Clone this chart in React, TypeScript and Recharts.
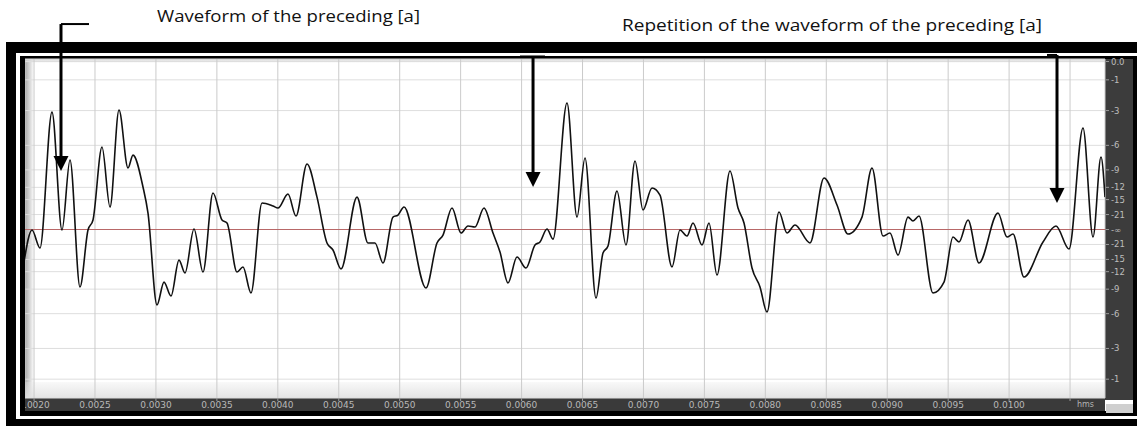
import React from 'react';
import { LineChart, Line, XAxis, YAxis, CartesianGrid, ReferenceLine } from 'recharts';

// time in milliseconds (axis labels show seconds)
const timeMs = [
  1.9175, 1.9831, 2.0487, 2.1472, 2.2292, 2.2949, 2.3769, 2.4426, 2.4836, 2.5574,
  2.6231, 2.6969, 2.7708, 2.8118, 2.8938, 2.9349, 3.0087, 3.0661, 3.1236, 3.1892,
  3.2384, 3.3123, 3.3861, 3.4682, 3.5420, 3.5830, 3.6651, 3.7143, 3.7799, 3.8702,
  3.9605, 4.0015, 4.0835, 4.1492, 4.2394, 4.3215, 4.4035, 4.4527, 4.5184, 4.6497,
  4.7399, 4.7973, 4.8630, 4.9450, 4.9861, 5.0353, 5.2158, 5.3060, 5.3553, 5.4291,
  5.5030, 5.5604, 5.6178, 5.6917, 5.7655, 5.8229, 5.8886, 5.9624, 6.0363, 6.1101,
  6.1511, 6.2086, 6.2578, 6.3727, 6.4547, 6.5204, 6.6106, 6.6680, 6.7091, 6.7829,
  6.8567, 6.9306, 6.9962, 7.0701, 7.1357, 7.2342, 7.2998, 7.3572, 7.4065, 7.4803,
  7.5377, 7.6034, 7.7100, 7.7757, 7.8249, 7.8906, 7.9562, 8.0136, 8.1121, 8.1777,
  8.2434, 8.3664, 8.4813, 8.5880, 8.6782, 8.7931, 8.8751, 8.9654, 9.0228, 9.0885,
  9.1705, 9.2115, 9.2608, 9.3756, 9.4659, 9.5397, 9.5889, 9.6628, 9.7530, 9.9089,
  9.9828, 10.0320, 10.1222, 10.2782, 10.3848, 10.4915, 10.6063, 10.6884, 10.7540, 10.7868,
];

// linear amplitude (1 = full scale)
const amplitude = [
  -0.193, -0.003, -0.110, 0.699, -0.003, 0.414, -0.342, -0.003, 0.057, 0.491,
  0.134, 0.711, 0.366, 0.443, 0.253, 0.098, -0.449, -0.313, -0.396, -0.182,
  -0.259, 0.003, -0.253, 0.217, 0.057, 0.039, -0.253, -0.223, -0.378, 0.158,
  0.140, 0.128, 0.211, 0.080, 0.390, 0.193, -0.080, -0.122, -0.235, 0.193,
  -0.080, -0.080, -0.199, 0.074, 0.086, 0.134, -0.348, -0.080, -0.033, 0.128,
  -0.021, 0.021, 0.015, 0.128, -0.021, -0.134, -0.318, -0.164, -0.229, -0.092,
  -0.074, 0.003, -0.057, 0.753, 0.074, 0.426, -0.408, -0.140, -0.098, 0.229,
  -0.092, 0.408, 0.116, 0.247, 0.205, -0.223, -0.003, -0.039, 0.039, -0.092,
  0.039, -0.271, 0.348, 0.128, 0.039, -0.229, -0.342, -0.491, 0.104, -0.021,
  0.027, -0.080, 0.307, 0.146, -0.027, 0.074, 0.366, -0.039, -0.021, -0.152,
  0.074, 0.051, 0.080, -0.378, -0.313, -0.045, -0.074, 0.057, -0.199, 0.098,
  -0.045, -0.027, -0.283, -0.074, 0.021, -0.116, 0.604, -0.045, 0.432, 0.193,
];

const xTickValues = [2.0, 2.5, 3.0, 3.5, 4.0, 4.5, 5.0, 5.5, 6.0, 6.5, 7.0, 7.5, 8.0, 8.5, 9.0, 9.5, 10.0, 10.5];
const xTickLabels = ['0.0020', '0.0025', '0.0030', '0.0035', '0.0040', '0.0045', '0.0050', '0.0055', '0.0060', '0.0065', '0.0070', '0.0075', '0.0080', '0.0085', '0.0090', '0.0095', '0.0100', ''];
const xUnitLabel = 'hms';

const yTickValues = [1.0, 0.891, 0.708, 0.501, 0.355, 0.251, 0.178, 0.089, 0, -0.089, -0.178, -0.251, -0.355, -0.501, -0.708, -0.891];
const yTickLabels = ['0.0', '-1', '-3', '-6', '-9', '-12', '-15', '-21', '-∞', '-21', '-15', '-12', '-9', '-6', '-3', '-1'];

// annotation arrows (time ms, amplitude)
const arrowTimes = [2.221, 6.094, 10.393];
const arrowTops = [1.223, 1.03, 1.039];
const arrowTips = [0.348, 0.253, 0.158];
const bracketFrom = [2.221, 5.987, 10.311];
const bracketTo = [2.451, 6.192, 10.393];

const annotationTexts = ['Waveform of the preceding [a]', 'Repetition of the waveform of the preceding [a]'];

const data = timeMs.map((t, i) => ({ t, a: amplitude[i] }));

const XTick = (props: any) => {
  const { x, y, payload } = props;
  const i = xTickValues.indexOf(payload.value);
  return (
    <g>
      <line x1={x} x2={x} y1={y} y2={y + 3} stroke="#9a9a9a" strokeWidth={1} />
      <text x={x} y={y + 10} textAnchor="middle" fontSize={9} fill="#b8b8b8" fontFamily="DejaVu Sans">
        {i >= 0 ? xTickLabels[i] : ''}
      </text>
    </g>
  );
};

const YTick = (props: any) => {
  const { x, y, payload } = props;
  const i = yTickValues.indexOf(payload.value);
  return (
    <g>
      <line x1={x + 1} x2={x + 4} y1={y} y2={y} stroke="#9a9a9a" strokeWidth={1} />
      <text x={x + 6} y={y + 3} fontSize={8.5} fill="#bdbdbd" fontFamily="DejaVu Sans">
        {i >= 0 ? yTickLabels[i] : ''}
      </text>
    </g>
  );
};

const arrowShape = (props: any) => {
  const { x1, y1, x2, y2 } = props;
  return (
    <g>
      <line x1={x1} y1={y1} x2={x2} y2={y2 - 12} stroke="#000" strokeWidth={3} />
      <polygon points={`${x2 - 7.5},${y2 - 15} ${x2 + 7.5},${y2 - 15} ${x2},${y2}`} fill="#000" />
    </g>
  );
};

const abs = (l: number, t: number, w: number, h: number, bg: string, z = 0): React.CSSProperties => ({
  position: 'absolute', left: l, top: t, width: w, height: h, background: bg, zIndex: z,
});

export default function App() {
  return (
    <div style={{ position: 'absolute', left: 0, top: 0, width: 1137, height: 426, background: '#fff', overflow: 'hidden' }}>
      {/* frame + panel backgrounds */}
      <div style={abs(6, 42, 1131, 11, '#000')} />
      <div style={abs(6, 419, 1131, 7, '#000')} />
      <div style={abs(20, 56, 1117, 3, '#000')} />
      <div style={abs(20, 411, 1117, 5, '#000')} />
      <div style={abs(1133, 56, 4, 360, '#000')} />
      <div style={abs(25, 59, 1080, 339, '#fff')} />
      <div style={{ ...abs(25, 59, 9, 339, 'linear-gradient(to right, #a8a8a8, #ffffff)') }} />
      <div style={{ ...abs(25, 59, 1080, 4, 'linear-gradient(to bottom, #d8d8d8, rgba(255,255,255,0))') }} />
      <div style={{ ...abs(25, 382, 1080, 16, 'linear-gradient(to bottom, rgba(235,235,235,0.3), rgba(225,225,225,0.9))') }} />
      <div style={abs(25, 398, 1080, 13, '#3a3a3a')} />
      <div style={abs(1105, 59, 28, 341, '#3c3c3c')} />
      <div style={abs(1106, 404, 27, 9, '#cfcfcf')} />
      <div style={{ position: 'absolute', left: 1077, top: 400, fontSize: 8, color: '#b4b4b4', fontFamily: 'DejaVu Sans', zIndex: 2 }}>{xUnitLabel}</div>

      <div style={{ position: 'absolute', left: 0, top: 0, zIndex: 1 }}>
        <LineChart width={1137} height={426} data={data} margin={{ top: 59, right: 4, bottom: 15, left: 25 }}>
          <CartesianGrid horizontal vertical={false} stroke="#dedede" strokeWidth={1} />
          <CartesianGrid horizontal={false} vertical stroke="#cbcbcb" strokeWidth={1} />
          <XAxis
            dataKey="t"
            type="number"
            domain={[1.9257, 10.7868]}
            ticks={xTickValues}
            interval={0}
            allowDataOverflow
            height={13}
            tickSize={0}
            tickMargin={0}
            axisLine={false}
            tickLine={false}
            tick={<XTick />}
          />
          <YAxis
            orientation="right"
            type="number"
            domain={[-1.003, 1.015]}
            ticks={yTickValues}
            interval={0}
            allowDataOverflow
            width={28}
            tickSize={0}
            tickMargin={0}
            axisLine={false}
            tickLine={false}
            tick={<YTick />}
          />
          <ReferenceLine y={0} stroke="#b86868" strokeWidth={1.2} />
          <Line
            dataKey="a"
            type="monotone"
            stroke="#111"
            strokeWidth={1.6}
            dot={false}
            isAnimationActive={false}
          />
          {arrowTimes.map((t, i) => (
            <ReferenceLine
              key={'b' + i}
              segment={[{ x: bracketFrom[i], y: arrowTops[i] }, { x: bracketTo[i], y: arrowTops[i] }]}
              stroke="#000"
              strokeWidth={2}
              ifOverflow="visible"
            />
          ))}
          {arrowTimes.map((t, i) => (
            <ReferenceLine
              key={'a' + i}
              segment={[{ x: t, y: arrowTops[i] }, { x: t, y: arrowTips[i] }]}
              ifOverflow="visible"
              shape={arrowShape}
            />
          ))}
        </LineChart>
      </div>

      {/* left frame on top (clips the first time label) */}
      <div style={abs(6, 42, 10, 384, '#000', 3)} />
      <div style={abs(16, 53, 4, 366, '#fff', 3)} />
      <div style={abs(20, 56, 5, 360, '#000', 3)} />

      <svg width={1137} height={40} style={{ position: 'absolute', left: 0, top: 0, zIndex: 4 }}>
        <text x={157} y={22} fontSize={17} fontFamily="Open Sans" fill="#111" textLength={263} lengthAdjust="spacingAndGlyphs">
          {annotationTexts[0]}
        </text>
        <text x={622} y={31} fontSize={16} fontFamily="Open Sans" fill="#111" textLength={420} lengthAdjust="spacingAndGlyphs">
          {annotationTexts[1]}
        </text>
      </svg>
    </div>
  );
}
